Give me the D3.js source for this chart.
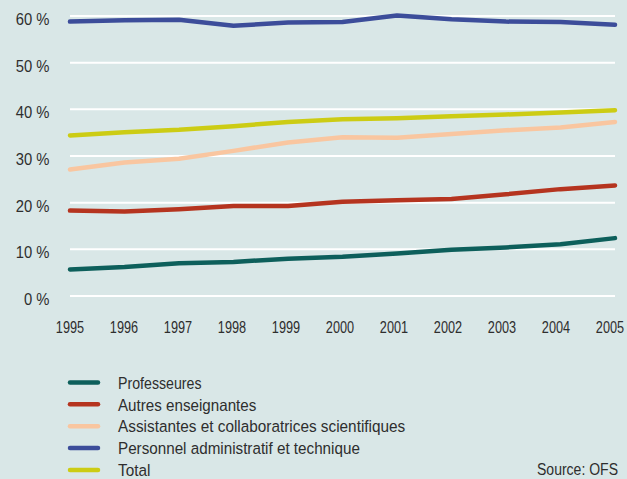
<!DOCTYPE html>
<html><head><meta charset="utf-8">
<script src="https://cdn.jsdelivr.net/npm/d3@7"></script>
<style>
html,body{margin:0;padding:0;background:#d9e7e7;}
svg{display:block;}
text{font-family:"Liberation Sans",Arial,sans-serif;fill:#2e2e2e;}
</style></head>
<body>
<svg id="chart" width="627" height="479"></svg>
<script>
const years = [1995,1996,1997,1998,1999,2000,2001,2002,2003,2004,2005];
const yTicks = [0,10,20,30,40,50,60];
const seriesNames = ["Professeures","Autres enseignantes","Assistantes et collaboratrices scientifiques","Personnel administratif et technique","Total"];
const professeures = [5.7,6.2,7.0,7.3,8.0,8.4,9.1,9.9,10.4,11.1,12.4];
const autres = [18.3,18.1,18.6,19.3,19.3,20.2,20.5,20.8,21.8,22.9,23.7];
const assistantes = [27.1,28.6,29.4,31.1,32.9,34.0,33.9,34.7,35.5,36.1,37.3];
const personnel = [58.8,59.1,59.2,57.9,58.6,58.7,60.1,59.3,58.8,58.7,58.1];
const total = [34.4,35.1,35.6,36.4,37.3,37.9,38.1,38.5,38.9,39.3,39.8];
const colors = ["#0d5f5b","#b5341f","#f9c6a0","#3c4d9a","#cccc14"];
const sourceText = "Source: OFS";

// style: horizontal condensation of each legend label (emulates a condensed typeface)
const legendCondense = [0.86,0.92,0.93,0.923,0.93];

const seriesData = [professeures, autres, assistantes, personnel, total];
const svg = d3.select("#chart");
svg.append("rect").attr("width",627).attr("height",479).attr("fill","#d9e7e7");

const x = d3.scaleLinear().domain([1995,2005]).range([70,615]);
const xLab = d3.scaleLinear().domain([1995,2005]).range([70,610]);
const y = d3.scaleLinear().domain([0,60]).range([296,16]);

// gridlines
svg.append("g").selectAll("line").data(yTicks).join("line")
  .attr("x1",x(1995)).attr("x2",x(2005))
  .attr("y1",d=>y(d)).attr("y2",d=>y(d))
  .attr("stroke","#ffffff").attr("stroke-width",2);

// y labels
svg.append("g").selectAll("text").data(yTicks).join("text")
  .attr("transform",d=>`translate(49.5,${y(d)+9}) scale(0.87,1)`)
  .attr("text-anchor","end").attr("font-size",17)
  .text(d=>d+" %");

// x labels
svg.append("g").selectAll("text").data(years).join("text")
  .attr("transform",d=>`translate(${xLab(d)},332.5) scale(0.77,1)`)
  .attr("text-anchor","middle").attr("font-size",16.5)
  .text(d=>d);

const line = d3.line().x((d,i)=>x(years[i])).y(d=>y(d));
svg.append("g").selectAll("path").data(seriesData.map((v,i)=>({v,i}))).join("path")
  .attr("d",d=>line(d.v))
  .attr("fill","none").attr("stroke",d=>colors[d.i])
  .attr("stroke-width",4.5).attr("stroke-linejoin","round").attr("stroke-linecap","round");

// legend
const lg = svg.append("g");
const items = lg.selectAll("g").data(seriesNames).join("g")
  .attr("transform",(d,i)=>`translate(0,${382.4 + i*21.9})`);
items.append("line").attr("x1",70).attr("x2",98).attr("y1",0).attr("y2",0)
  .attr("stroke",(d,i)=>colors[i]).attr("stroke-width",4.5).attr("stroke-linecap","round");
items.append("text")
  .attr("transform",(d,i)=>`translate(118,6.2) scale(${legendCondense[i]},1)`)
  .attr("font-size",16.5).text(d=>d);

svg.append("text").attr("transform","translate(618,474.5) scale(0.85,1)")
  .attr("text-anchor","end").attr("font-size",16.5).text(sourceText);
</script>
</body></html>
